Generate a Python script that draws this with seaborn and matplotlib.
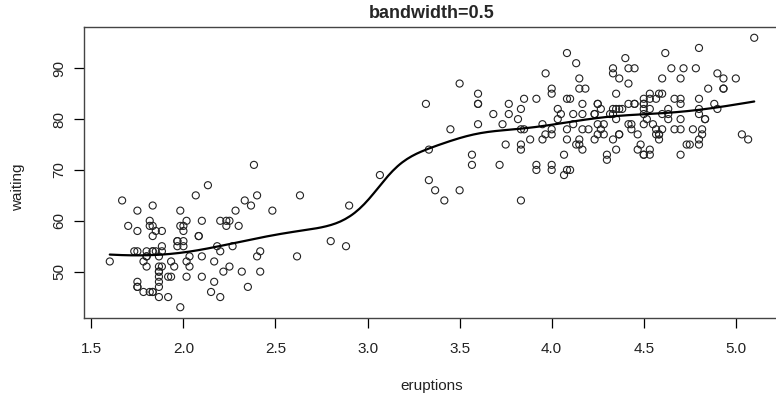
import numpy as np
import pandas as pd
import matplotlib
matplotlib.use("Agg")
import matplotlib.pyplot as plt
import seaborn as sns

# Old Faithful data, as plotted
eruptions = [3.600, 1.800, 3.333, 2.283, 4.533, 2.883, 4.700, 3.600, 1.950, 4.350,
             1.833, 3.917, 4.200, 1.750, 4.700, 2.167, 1.750, 4.800, 1.600, 4.250,
             1.800, 1.750, 3.450, 3.067, 4.533, 3.600, 1.967, 4.083, 3.850, 4.433,
             4.300, 4.467, 3.367, 4.033, 3.833, 2.017, 1.867, 4.833, 1.833, 4.783,
             4.350, 1.883, 4.567, 1.750, 4.533, 3.317, 3.833, 2.100, 4.633, 2.000,
             4.800, 4.716, 1.833, 4.833, 1.733, 4.883, 3.717, 1.667, 4.567, 4.317,
             2.233, 4.500, 1.750, 4.800, 1.817, 4.400, 4.167, 4.700, 2.067, 4.700,
             4.033, 1.967, 4.500, 4.000, 1.983, 5.067, 2.017, 4.567, 3.883, 3.600,
             4.133, 4.333, 4.100, 2.633, 4.067, 4.933, 3.950, 4.517, 2.167, 4.000,
             2.200, 4.333, 1.867, 4.817, 1.833, 4.300, 4.667, 3.750, 1.867, 4.900,
             2.483, 4.367, 2.100, 4.500, 4.050, 1.867, 4.700, 1.783, 4.850, 3.683,
             4.733, 2.300, 4.900, 4.417, 1.700, 4.633, 2.317, 4.600, 1.817, 4.417,
             2.617, 4.067, 4.250, 1.967, 4.600, 3.767, 1.917, 4.500, 2.267, 4.650,
             1.867, 4.167, 2.800, 4.333, 1.833, 4.383, 1.883, 4.933, 2.033, 3.733,
             4.233, 2.233, 4.533, 4.817, 4.333, 1.983, 4.633, 2.017, 5.100, 1.800,
             5.033, 4.000, 2.400, 4.600, 3.567, 4.000, 4.500, 4.083, 1.800, 3.967,
             2.200, 4.150, 2.000, 3.833, 3.500, 4.583, 2.367, 5.000, 1.933, 4.617,
             1.917, 2.083, 4.583, 3.333, 4.167, 4.333, 4.500, 2.417, 4.000, 4.167,
             1.883, 4.583, 4.250, 3.767, 2.033, 4.433, 4.083, 1.833, 4.417, 2.183,
             4.800, 1.833, 4.800, 4.100, 3.966, 4.233, 3.500, 4.366, 2.250, 4.667,
             2.100, 4.350, 4.133, 1.867, 4.600, 1.783, 4.367, 3.850, 1.933, 4.500,
             2.383, 4.700, 1.867, 3.833, 3.417, 4.233, 2.400, 4.800, 2.000, 4.150,
             1.867, 4.267, 1.750, 4.483, 4.000, 4.117, 4.083, 4.267, 3.917, 4.550,
             4.083, 2.417, 4.183, 2.217, 4.450, 1.883, 1.850, 4.283, 3.950, 2.333,
             4.150, 2.350, 4.933, 2.900, 4.583, 3.833, 2.083, 4.367, 2.133, 4.350,
             2.200, 4.450, 3.567, 4.500, 4.150, 3.817, 3.917, 4.450, 2.000, 4.283,
             4.767, 4.533, 1.850, 4.250, 1.983, 2.250, 4.750, 4.117, 2.150, 4.417,
             1.817, 4.467]
waiting = [79, 54, 74, 62, 85, 55, 88, 85, 51, 85, 54, 84, 78, 47, 83, 52, 62, 84,
           52, 79, 51, 47, 78, 69, 74, 83, 55, 76, 78, 79, 73, 77, 66, 80, 74, 52,
           48, 80, 59, 90, 80, 58, 84, 58, 73, 83, 64, 53, 82, 59, 75, 90, 54, 80,
           54, 83, 71, 64, 77, 81, 59, 84, 48, 82, 60, 92, 78, 78, 65, 73, 82, 56,
           79, 71, 62, 76, 60, 78, 76, 83, 75, 82, 70, 65, 73, 88, 76, 80, 48, 86,
           60, 90, 50, 78, 63, 72, 84, 75, 51, 82, 62, 88, 49, 83, 81, 47, 84, 52,
           86, 81, 75, 59, 89, 79, 59, 81, 50, 85, 59, 87, 53, 69, 77, 56, 88, 81,
           45, 82, 55, 90, 45, 83, 56, 89, 46, 82, 51, 86, 53, 79, 81, 60, 82, 77,
           76, 59, 80, 49, 96, 53, 77, 77, 65, 81, 71, 70, 81, 93, 53, 89, 45, 86,
           58, 78, 66, 76, 63, 88, 52, 93, 49, 57, 77, 68, 81, 81, 73, 50, 85, 74,
           55, 77, 83, 83, 51, 78, 84, 46, 83, 55, 81, 57, 76, 84, 77, 81, 87, 77,
           51, 78, 60, 82, 91, 53, 78, 46, 77, 84, 49, 83, 71, 80, 49, 75, 64, 76,
           53, 94, 55, 76, 50, 82, 54, 75, 78, 79, 78, 78, 70, 79, 70, 54, 86, 50,
           90, 54, 54, 77, 79, 64, 75, 47, 86, 63, 85, 82, 57, 82, 67, 74, 54, 83,
           73, 73, 88, 80, 71, 83, 56, 79, 78, 84, 58, 83, 43, 60, 75, 81, 46, 90,
           46, 74]
bandwidth = 0.5

df = pd.DataFrame({"eruptions": eruptions, "waiting": waiting})

# kernel smoother like R's ksmooth(kernel="normal")
x = df["eruptions"].to_numpy()
y = df["waiting"].to_numpy()
xs = np.linspace(x.min(), x.max(), max(100, len(x)))
bw = 0.3706506 * bandwidth
w = np.exp(-0.5 * ((xs[:, None] - x[None, :]) / bw) ** 2)
w[np.abs(xs[:, None] - x[None, :]) >= 4 * bw] = 0
smooth = pd.DataFrame({"eruptions": xs, "waiting": (w * y).sum(1) / w.sum(1)})

sns.set_style("white")
plt.rcParams["font.family"] = ["Liberation Sans", "DejaVu Sans"]

fig = plt.figure(figsize=(7.76, 3.95), dpi=100)
ax = fig.add_axes([84 / 776, 77 / 395, 696 / 776, 291 / 395])

sns.scatterplot(data=df, x="eruptions", y="waiting", ax=ax, s=26,
                facecolor="none", edgecolor="#222222", linewidth=0.8, marker="o")
sns.lineplot(data=smooth, x="eruptions", y="waiting", ax=ax, color="black",
             linewidth=1.6)

ax.set_xlim(1.46, 5.24)
ax.set_ylim(40.88, 98.12)
ax.set_xticks([1.5, 2.0, 2.5, 3.0, 3.5, 4.0, 4.5, 5.0])
ax.set_yticks([50, 60, 70, 80, 90])
for lab in ax.get_yticklabels():
    lab.set_rotation(90)
    lab.set_va("center")
ax.tick_params(axis="both", direction="out", length=7, width=0.9,
               color="black", labelsize=11, labelcolor="#222222",
               bottom=True, left=True)
ax.tick_params(axis="x", pad=10)
ax.tick_params(axis="y", pad=6)
for s in ax.spines.values():
    s.set_color("#444444")
    s.set_linewidth(1.0)

ax.set_xlabel("")
ax.set_ylabel("")
fig.text(432 / 776, 1 - 386 / 395, "eruptions", ha="center", va="center",
         fontsize=11, color="#222222")
fig.text(18 / 776, 1 - 187 / 395, "waiting", ha="center", va="center",
         rotation=90, fontsize=11, color="#222222")
fig.text(432 / 776, 1 - 13 / 395, f"bandwidth={bandwidth}", ha="center",
         va="center", fontsize=13, fontweight="bold")

fig.savefig("out.png", dpi=100)
